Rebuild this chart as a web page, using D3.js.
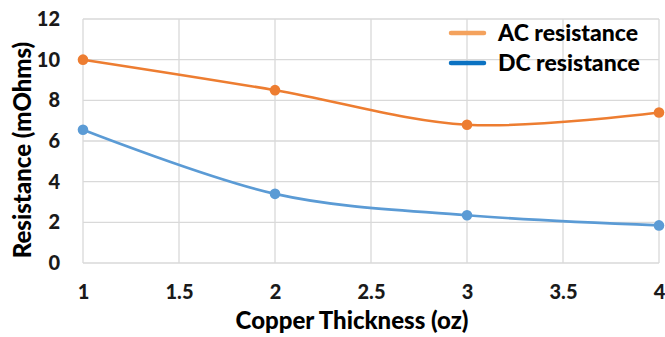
<!DOCTYPE html>
<html>
<head>
<meta charset="utf-8">
<script src="https://cdn.jsdelivr.net/npm/d3@7"></script>
<style>
  html, body { margin: 0; padding: 0; background: #fff; }
  svg { display: block; font-family: Lato, "Open Sans", sans-serif; }
</style>
</head>
<body>
<svg id="chart" width="665" height="337"></svg>
<script>
// Copper thickness (oz) against resistance (mOhms)
const thickness = [1, 2, 3, 4];
const acResistance = [10.0, 8.5, 6.8, 7.4];
const dcResistance = [6.55, 3.4, 2.35, 1.85];
const xTicks = [1, 1.5, 2, 2.5, 3, 3.5, 4];
const yTicks = [0, 2, 4, 6, 8, 10, 12];
const seriesNames = ["AC resistance", "DC resistance"];

const svg = d3.select("#chart");
const margin = { left: 83, right: 6, top: 19, bottom: 74 };
const W = 665, H = 337;

const x = d3.scaleLinear().domain([1, 4]).range([margin.left, W - margin.right]);
const y = d3.scaleLinear().domain([0, 12]).range([H - margin.bottom, margin.top]);

const grid = "#d9d9d9";
const fontStack = "Lato, 'Open Sans', sans-serif";

// horizontal gridlines
svg.append("g")
  .selectAll("line").data(yTicks).join("line")
  .attr("x1", x(1)).attr("x2", x(4))
  .attr("y1", d => y(d)).attr("y2", d => y(d))
  .attr("stroke", grid).attr("stroke-width", 1.3);

// vertical gridlines
svg.append("g")
  .selectAll("line").data(xTicks).join("line")
  .attr("x1", d => x(d)).attr("x2", d => x(d))
  .attr("y1", y(0)).attr("y2", y(12))
  .attr("stroke", grid).attr("stroke-width", 1.3);

// y tick labels
const yAxis = svg.append("g")
  .attr("transform", `translate(${x(1) - 23},0)`)
  .call(d3.axisLeft(y).tickValues(yTicks).tickSize(0).tickPadding(0));
yAxis.select(".domain").remove();
yAxis.selectAll("text")
  .attr("font-size", 20).attr("font-weight", 900).attr("fill", "#1a1a1a")
  .attr("font-family", fontStack);

// x tick labels
const xAxis = svg.append("g")
  .attr("transform", `translate(0,${y(0) + 22})`)
  .call(d3.axisBottom(x).tickValues(xTicks).tickFormat(d3.format("")).tickSize(0).tickPadding(0));
xAxis.select(".domain").remove();
xAxis.selectAll("text")
  .attr("font-size", 20).attr("font-weight", 900).attr("fill", "#1a1a1a")
  .attr("font-family", fontStack);

// axis titles
svg.append("text")
  .attr("x", 352).attr("y", 329)
  .attr("text-anchor", "middle")
  .attr("font-size", 24).attr("font-weight", 900).attr("fill", "#000")
  .text("Copper Thickness (oz)");

svg.append("text")
  .attr("transform", `translate(31,${(y(0) + y(12)) / 2 + 9}) rotate(-90)`)
  .attr("text-anchor", "middle")
  .attr("font-size", 24).attr("font-weight", 900).attr("fill", "#000")
  .text("Resistance (mOhms)");

// series
const series = [
  { name: seriesNames[0], values: acResistance, color: "#ed7d31", key: "#f4a25d" },
  { name: seriesNames[1], values: dcResistance, color: "#5b9bd5", key: "#0b72c2" }
];

const line = d3.line()
  .x(d => x(d[0])).y(d => y(d[1]))
  .curve(d3.curveCatmullRom.alpha(0));

series.forEach(s => {
  const pts = thickness.map((t, i) => [t, s.values[i]]);
  svg.append("path")
    .datum(pts)
    .attr("d", line)
    .attr("fill", "none")
    .attr("stroke", s.color)
    .attr("stroke-width", 2.6);
  svg.append("g")
    .selectAll("circle").data(pts).join("circle")
    .attr("cx", d => x(d[0])).attr("cy", d => y(d[1]))
    .attr("r", 5.3)
    .attr("fill", s.color);
});

// legend
const legend = svg.append("g");
series.forEach((s, i) => {
  const ly = 33 + i * 30;
  legend.append("line")
    .attr("x1", 451).attr("x2", 484)
    .attr("y1", ly).attr("y2", ly)
    .attr("stroke", s.key).attr("stroke-width", 4.5)
    .attr("stroke-linecap", "round");
  legend.append("text")
    .attr("x", 498).attr("y", ly)
    .attr("dy", "0.36em")
    .attr("font-size", 23).attr("font-weight", 900).attr("fill", "#000")
    .text(s.name);
});
</script>
</body>
</html>
